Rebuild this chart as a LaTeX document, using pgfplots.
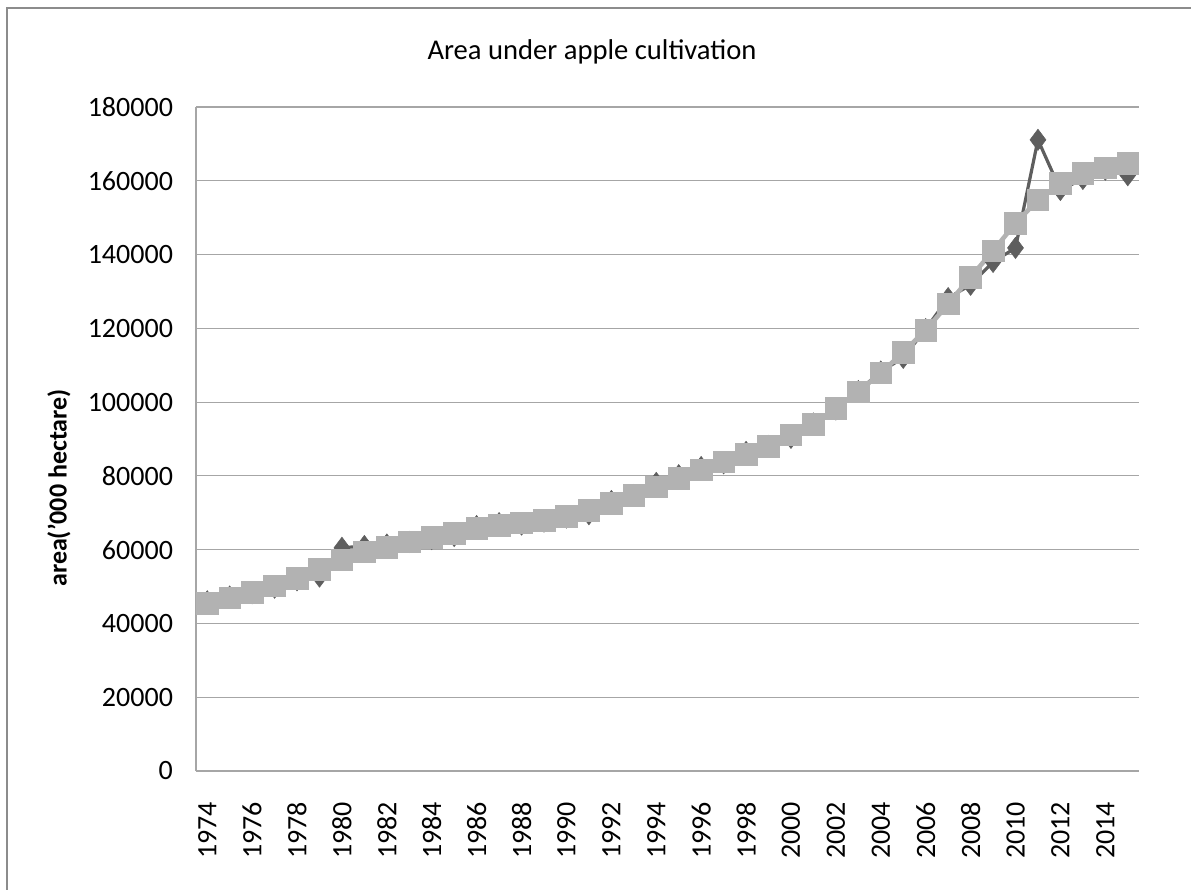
\documentclass[border=0pt]{standalone}
\usepackage{fontspec}
\setmainfont{Carlito}
\usepackage{pgfplots}
\pgfplotsset{compat=1.18}
\definecolor{darkser}{HTML}{5E5E5E}
\definecolor{lightser}{HTML}{B2B2B2}
\definecolor{gridc}{HTML}{A6A6A6}
\definecolor{framec}{HTML}{8C8C8C}
\begin{document}
\begin{tikzpicture}
\useasboundingbox (0,0) rectangle (595.5pt,445pt);
\draw[framec, line width=1.1pt] (3.5pt,-2pt) -- (3.5pt,441pt) -- (598pt,441pt);
\node[font=\fontsize{14.3}{16}\selectfont] at (296pt,419pt) {Area under apple cultivation};
\node[font=\fontsize{13}{15}\selectfont\bfseries, rotate=90] at (29.5pt,201pt) {area('000 hectare)};
\begin{axis}[
  at={(98pt,59.5pt)}, anchor=south west,
  width=471.5pt, height=332pt, scale only axis,
  xmin=1973.5, xmax=2015.5,
  ymin=0, ymax=180000,
  xtick={1974,1976,...,2014},
  ytick={0,20000,...,180000},
  axis x line*=bottom, axis y line*=left,
  axis line style={gridc, line width=0.6pt, -},
  major tick length=0pt,
  ymajorgrids, grid style={gridc, line width=0.6pt},
  scaled y ticks=false,
  /pgf/number format/.cd, set thousands separator={}, fixed, assume math mode=true,
  /pgfplots/.cd,
  xticklabel={\pgfmathprintnumber[1000 sep={},fixed,assume math mode=true]{\tick}},
  x tick label style={rotate=90, anchor=east, font=\fontsize{14}{16}\selectfont, xshift=-12pt},
  y tick label style={font=\fontsize{14}{16}\selectfont, xshift=-8pt},
  clip=false,
]
\addplot[color=darkser, line width=1.6pt, mark=diamond*, mark size=5.3pt, mark options={fill=darkser, draw=darkser, line width=0.3pt}] coordinates {
(1974,46000) (1975,47300) (1976,48200) (1977,49700) (1978,51700) (1979,52700)
(1980,60500) (1981,61000) (1982,61400) (1983,62100) (1984,62900) (1985,63700)
(1986,66400) (1987,67200) (1988,66800) (1989,67600) (1990,68700) (1991,69600)
(1992,73200) (1993,74800) (1994,78100) (1995,80200) (1996,82400) (1997,83400)
(1998,86500) (1999,88100) (2000,90300) (2001,94200) (2002,98000) (2003,103000)
(2004,108300) (2005,112000) (2006,119800) (2007,128200) (2008,131800) (2009,138000)
(2010,141800) (2011,171100) (2012,157500) (2013,160500) (2014,163000) (2015,161500)
};
\addplot[color=lightser, line width=2.3pt, mark=square*, mark size=5.4pt, mark options={fill=lightser, draw=lightser, line width=0.3pt}] coordinates {
(1974,45500) (1975,46900) (1976,48500) (1977,50200) (1978,52300) (1979,54700)
(1980,57200) (1981,59400) (1982,60700) (1983,62100) (1984,63400) (1985,64500)
(1986,65800) (1987,66600) (1988,67300) (1989,68000) (1990,69100) (1991,70700)
(1992,72600) (1993,74800) (1994,77000) (1995,79400) (1996,81600) (1997,83800)
(1998,85900) (1999,88100) (2000,91100) (2001,94000) (2002,98400) (2003,102800)
(2004,107900) (2005,113500) (2006,119500) (2007,126600) (2008,133900) (2009,141000)
(2010,148500) (2011,154800) (2012,159300) (2013,162000) (2014,163500) (2015,164800)
};
\end{axis}
\end{tikzpicture}
\end{document}
